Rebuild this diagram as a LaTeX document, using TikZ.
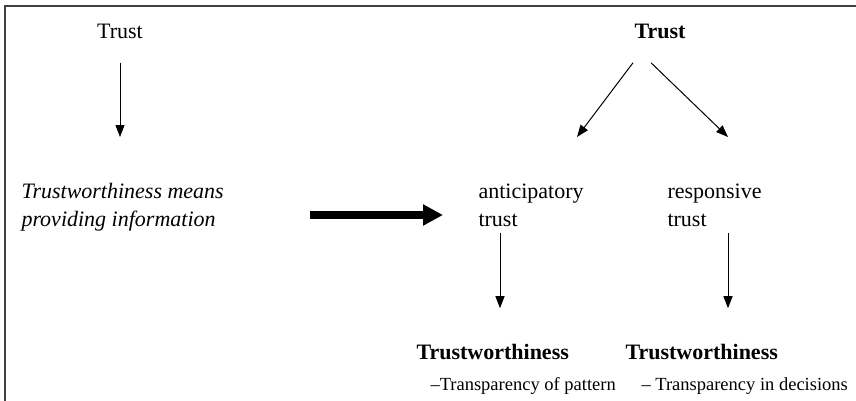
\documentclass[tikz,border=0pt]{standalone}
\usepackage{fontspec}
\setmainfont{Liberation Serif}
\usetikzlibrary{arrows.meta,calc}

\begin{document}
\begin{tikzpicture}[x=1pt,y=-1pt,>={Triangle[length=12pt,width=9pt]},line width=1pt]
\tikzstyle{txt}=[inner sep=0pt,font=\fontsize{22}{28}\selectfont,align=left]
\tikzstyle{boldtxt}=[txt,font=\fontsize{22}{28}\selectfont\bfseries]
\tikzstyle{subtxt}=[inner sep=0pt,font=\fontsize{18.5}{22}\selectfont]
\tikzstyle{fat arrow}=[-{Triangle[length=20pt,width=20pt]},line width=8pt]
\useasboundingbox (0,0) rectangle (856,400);
\clip (0,0) rectangle (856,400);
\draw[line width=1.5pt,black!75] (5,6) rectangle (880,420);

\node[txt,anchor=base]            (trustL) at (120,38)  {Trust};
\node[boldtxt,anchor=base]        (trustR) at (660,38)  {Trust};
\node[txt,anchor=north west,font=\fontsize{22}{28}\selectfont\itshape]
                                  (info)   at (21,183)  {Trustworthiness means\\providing information};
\node[txt,anchor=north west]      (antic)  at (478,183) {anticipatory\\trust};
\node[txt,anchor=north west]      (resp)   at (667,183) {responsive\\trust};
\node[boldtxt,anchor=base west]   (twA)    at (416,359) {Trustworthiness};
\node[boldtxt,anchor=base west]   (twR)    at (625,359) {Trustworthiness};
\node[subtxt,anchor=base west]    (tpA)    at ($(twA.base west)+(14,31)$) {–Transparency of pattern};
\node[subtxt,anchor=base west]    (tpR)    at ($(twR.base west)+(16,31)$) {– Transparency in decisions};

\draw[->,shorten <=24pt,shorten >=46pt] (trustL.south) -- (trustL.south |- info.north);
\draw[fat arrow] ($(info.north west)+(289,32)$) -- ($(antic.north west)+(-35,32)$);
\draw[->] ($(trustR.south)+(-27,24)$) -- ($(antic.north west)+(99,-46)$);
\draw[->] ($(trustR.south)+(-9,24)$) -- ($(resp.north west)+(61,-46)$);
\draw[->] ($(antic.south west)+(22,6)$) -- ($(twA.north west)+(84,-35)$);
\draw[->] ($(resp.south west)+(61,6)$) -- ($(twR.north west)+(103,-35)$);
\end{tikzpicture}
\end{document}
